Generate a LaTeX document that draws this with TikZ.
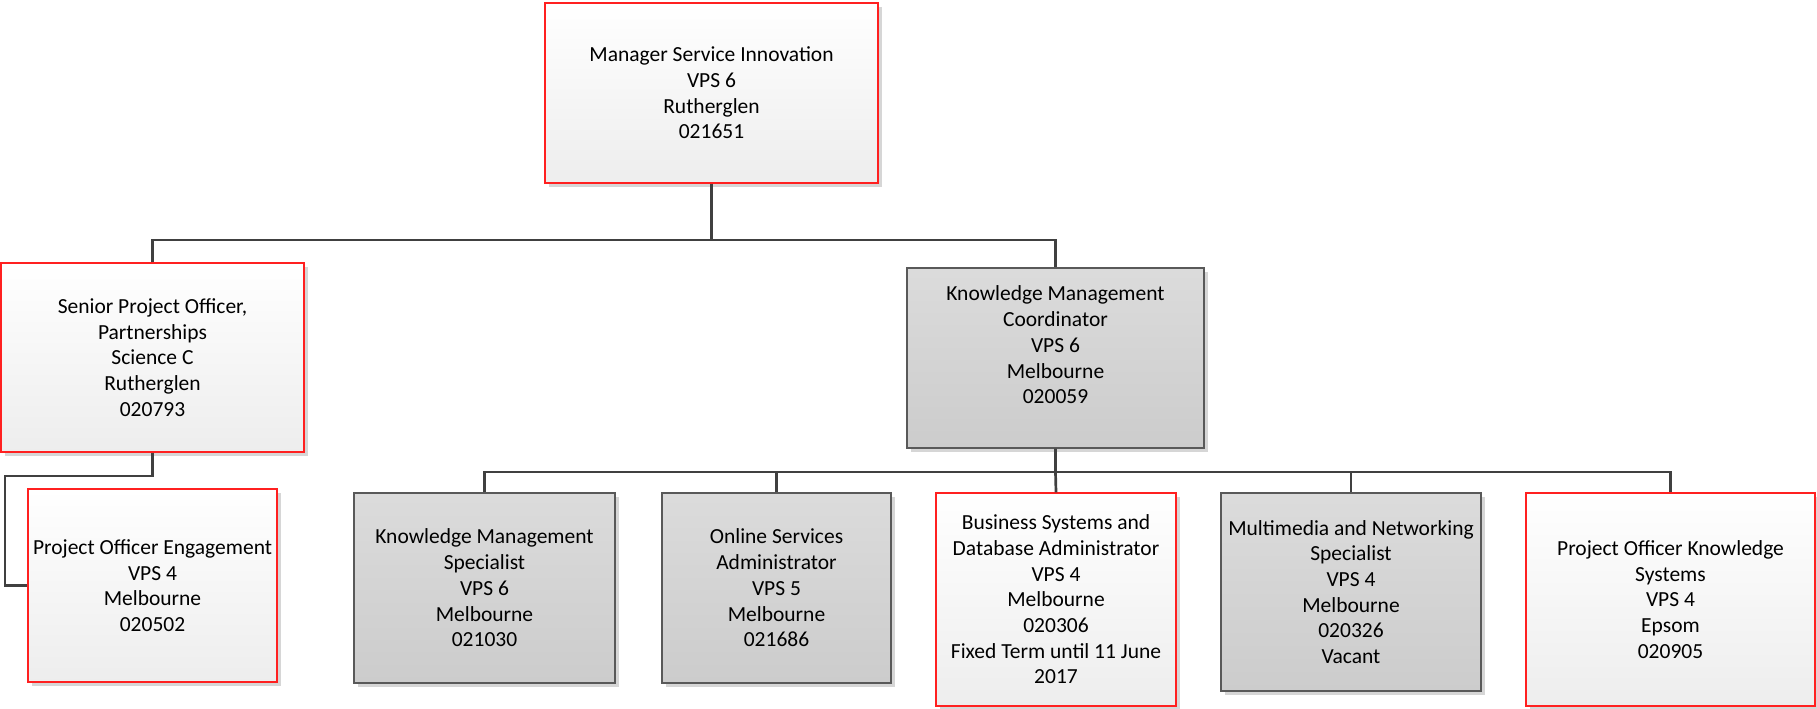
\documentclass[tikz,border=0pt]{standalone}
\usepackage{fontspec}
\setmainfont{Carlito}
\usetikzlibrary{shadows}
\definecolor{connc}{HTML}{404040}
\definecolor{gborder}{HTML}{595959}
\definecolor{redb}{HTML}{FF2020}
\begin{document}
\begin{tikzpicture}[x=1pt,y=-1pt,
  boxbase/.style={rectangle, inner sep=0pt, align=center,
    font=\fontsize{21.5}{25.7}\selectfont,
    drop shadow={shadow xshift=4pt, shadow yshift=-4pt, fill=black!16, opacity=1}},
  wbox/.style={boxbase, draw=redb, line width=1.1pt, top color=white, bottom color=black!7},
  gbox/.style={boxbase, draw=gborder, line width=1.1pt, top color=black!14, bottom color=black!20},
  conn/.style={draw=connc, line width=2.7pt}]
\useasboundingbox (0,0) rectangle (1817,709);

% boxes
\node[wbox, minimum width=333pt, minimum height=180pt] (top) at (711.5,93)
  {Manager Service Innovation\\VPS 6\\Rutherglen\\021651};
\node[wbox, minimum width=303pt, minimum height=189pt] (senior) at (152.5,357.5)
  {Senior Project Officer,\\Partnerships\\Science C\\Rutherglen\\020793};
\node[wbox, minimum width=249pt, minimum height=193pt] (poe) at (152.5,585.5)
  {Project Officer Engagement\\VPS 4\\Melbourne\\020502};
\node[gbox, minimum width=297pt, minimum height=180pt] (kmc) at (1055.5,358) {};
\node[align=center, font=\fontsize{21.5}{25.7}\selectfont, inner sep=0pt] (kmctext) at (1055.5,345)
  {Knowledge Management\\Coordinator\\VPS 6\\Melbourne\\020059};
\node[gbox, minimum width=261pt, minimum height=190pt] (kms) at (484.5,588)
  {Knowledge Management\\Specialist\\VPS 6\\Melbourne\\021030};
\node[gbox, minimum width=229pt, minimum height=190pt] (osa) at (776.5,588)
  {Online Services\\Administrator\\VPS 5\\Melbourne\\021686};
\node[wbox, minimum width=240pt, minimum height=213pt] (bsd) at (1056,599.5)
  {Business Systems and\\Database Administrator\\VPS 4\\Melbourne\\020306\\Fixed Term until 11 June\\2017};
\node[gbox, minimum width=260pt, minimum height=198pt] (mns) at (1351,592)
  {Multimedia and Networking\\Specialist\\VPS 4\\Melbourne\\020326\\Vacant};
\node[wbox, minimum width=289pt, minimum height=213pt] (pks) at (1670.5,599.5)
  {Project Officer Knowledge\\Systems\\VPS 4\\Epsom\\020905};

% connectors
\coordinate (j1) at (711.5,240);
\coordinate (e1) at (5,476);
\coordinate (j2) at (1055.5,472);
\draw[conn] (top.south) -- (j1);
\draw[conn] (senior.north) |- (j1) -| (kmc.north);
\draw[conn] (senior.south) |- (e1) |- (poe.west);
\draw[conn] (kmc.south) -- (j2) -- (bsd.north);
\draw[conn] (kms.north) |- (j2) -| (pks.north);
\draw[conn] (osa.north) |- (j2);
\draw[conn] (mns.north) |- (j2);
\end{tikzpicture}
\end{document}
